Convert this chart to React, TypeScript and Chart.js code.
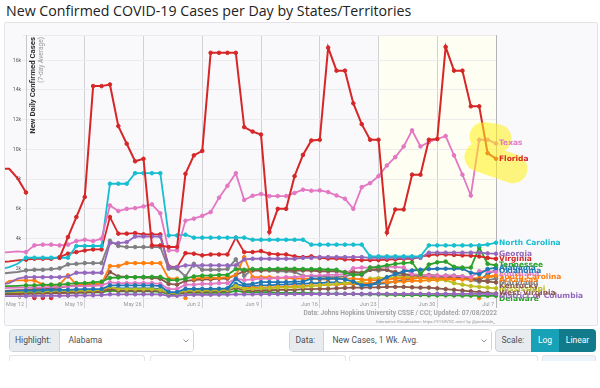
import React, { useEffect, useRef } from 'react';
import { Chart, registerables } from 'chart.js';

Chart.register(...registerables);

// Day index 0 = May 12, 2022. Series begin May 9 (-3) and end Jul 7 (56). Values in thousands.
const firstDay = -3;
const lastDay = 56;
const recentWeeksStart = 42; // Jun 23
const weekTickLabels = ['May 12', 'May 19', 'May 26', 'Jun 2', 'Jun 9', 'Jun 16', 'Jun 23', 'Jun 30', 'Jul 7'];
const yTickStep = 2;
const yMax = 17.7;

const florida = [8.7, 8.7, 8.05, 7.1, null, null, null, 2.7, 4.1, 5.45, 6.8, 14.26, 14.26, 14.37, 11.57, 10.38, 9.2, 9.37,
  3.54, 3.54, 3.43, 3.43, 8.36, 9.6, 9.9, 16.5, 16.5, 16.5, 16.5,
  11.5, 11.2, 11.0, 4.44, 6.0, 6.0, 8.2, 9.63, 10.6, 10.65,
  16.85, 15.3, 15.3, 13.1, 11.7, 10.65, 10.65, 4.4, 5.96, 5.96,
  8.3, 8.3, 10.65, 10.7, 16.9, 15.3, 15.3, 12.9, 12.9, 9.75, 9.37];
const floridaZeroDays = [1, 2, 3];

const texas = [3.05, 3.09, 3.14, 3.09, 3.54, 3.59, 3.59, 3.54, 3.59, 3.83, 3.92, 3.83, 3.99,
  6.23, 5.85, 6.0, 6.05, 6.16, 6.3, 5.7, 3.2, 3.2, 5.2,
  5.34, 5.53, 5.78, 6.75, 7.55, 8.4, 6.6, 6.88, 7.0, 6.86,
  6.86, 6.86, 7.07, 7.29, 7.22, 7.24, 7.13, 6.9, 6.68, 6.0,
  7.46, 7.73, 8.2, 8.92, 9.48, 10.2, 11.28, 10.2, 10.5, 10.7,
  10.9, 9.6, 8.3, 6.9, 10.65, 10.65, 10.4];

const northCarolina = [1.95, 2.08, 2.3, 2.71, 2.71, 2.71, 2.71, 2.71, 2.71, 3.5, 3.5, 3.5, 3.5,
  7.69, 7.69, 7.69, 8.4, 8.4, 8.4, 8.4, 4.21, 4.21, 4.26,
  4.06, 4.06, 4.06, 4.06, 4.06, 4.06, 4.06, 3.92, 3.92, 3.92,
  3.92, 3.92, 3.92, 3.92, 3.59, 3.59, 3.59, 3.59, 3.59, 3.59,
  3.59, 2.8, 2.8, 2.8, 2.8, 2.8, 2.8, 2.8, 3.54, 3.54,
  3.54, 3.54, 3.54, 3.54, 3.54, 3.6, 3.72];

const virginia = [2.42, 2.46, 2.53, 2.58, 2.64, 2.64, 2.64, 2.75, 2.98, 3.09, 3.2, 3.27, 3.27,
  5.45, 4.33, 4.33, 4.37, 4.28, 4.28, 4.28, 2.13, 2.08, 3.02,
  2.98, 2.87, 2.93, 2.93, 2.93, 4.06, 3.09, 3.09, 3.16, 2.98,
  2.93, 2.93, 2.8, 2.75, 2.8, 2.7, 2.66, 2.66, 2.6, 2.58,
  2.55, 2.55, 2.55, 2.58, 2.6, 2.64, 2.64, 2.78, 2.87, 2.93,
  2.93, 2.9, 2.87, 2.85, 2.8, 2.7, 2.64];

const georgia = [0.9, 1.0, 1.3, 1.4, 1.4, 1.4, 1.4, 1.4, 1.45, 1.7, 1.7, 1.7, 1.7,
  3.69, 3.69, 3.76, 4.14, 4.14, 4.14, 4.14, 2.08, 2.08, 2.19,
  2.19, 2.2, 2.2, 2.2, 2.2, 2.2, 2.6, 2.64, 2.64, 2.64,
  2.64, 2.64, 2.64, 2.7, 2.7, 2.75, 2.75, 2.75, 2.75, 2.75,
  2.75, 2.7, 2.7, 2.7, 2.7, 2.7, 2.7, 2.7, 3.05, 3.05,
  3.05, 3.05, 3.05, 3.05, 3.05, 3.0, 2.98];

const maryland = [1.63, 1.7, 1.75, 1.86, 1.9, 1.9, 1.95, 2.0, 2.26, 2.3, 2.35, 2.35, 2.35,
  3.85, 3.5, 3.43, 3.43, 3.43, 3.43, 3.43, 1.97, 1.97, 1.45,
  2.3, 1.9, 1.9, 1.9, 1.95, 2.6, 1.5, 1.9, 1.85, 1.85,
  1.8, 1.8, 1.75, 1.5, 1.45, 1.45, 1.4, 1.4, 1.45, 1.6,
  1.55, 1.9, 1.85, 1.9, 1.6, 1.45, 1.5, 1.45, 1.4, 1.4,
  1.4, 1.35, 1.3, 1.2, 1.1, 1.2, 1.3];

const tennessee = [0.8, 0.8, 0.82, 0.85, 0.85, 0.88, 0.9, 0.9, 0.95, 1.0, 1.0, 1.05, 1.1,
  1.35, 1.38, 1.4, 1.4, 1.42, 1.42, 1.42, 1.2, 1.2, 1.3,
  1.45, 1.5, 1.5, 1.55, 1.55, 1.95, 1.9, 1.95, 1.95, 1.95,
  1.97, 1.97, 1.97, 1.95, 1.95, 1.95, 1.9, 1.9, 1.7, 1.55,
  1.6, 2.05, 2.1, 2.2, 2.3, 2.35, 2.4, 1.6, 2.25, 2.4,
  2.45, 2.1, 2.05, 2.05, 3.4, 2.3, 2.2];

const alabama = [0.45, 0.45, 0.5, 0.5, 0.5, 0.52, 0.55, 0.55, 0.55, 0.58, 0.6, 0.6, 0.6,
  0.85, 0.85, 0.85, 0.85, 0.85, 0.85, 0.8, 0.4, 0.4, 0.62,
  0.62, 0.62, 0.62, 0.62, 0.65, 1.3, 0.9, 0.95, 1.07, 1.07,
  1.07, 1.07, 1.1, 1.1, 1.3, 1.3, 1.3, 1.3, 1.25, 1.1,
  0.85, 0.85, 1.1, 1.4, 1.6, 1.8, 1.85, 1.9, 1.95, 1.97,
  1.97, 1.97, 1.97, 1.7, 1.6, 1.95, 2.05];

const louisiana = [0.65, 0.68, 0.7, 0.7, 0.72, 0.72, 0.75, 0.75, 0.78, 0.8, 0.8, 0.82, 0.85,
  1.05, 1.0, 1.0, 1.0, 1.0, 1.0, 0.95, 0.6, 0.6, 0.9,
  0.9, 0.95, 0.95, 1.0, 1.0, 1.3, 1.2, 1.25, 1.3, 1.3,
  1.35, 1.4, 1.4, 1.45, 1.5, 1.5, 1.55, 1.55, 1.6, 2.0,
  2.05, 2.05, 2.1, 2.1, 2.1, 2.05, 1.6, 1.55, 1.5, 1.5,
  1.5, 1.5, 1.45, 1.4, 1.8, 1.8, 1.75];

const southCarolina = [0.8, 1.15, 1.18, 1.18, 1.18, 0.9, 0.85, 0.9, 1.52, 0.9, 0.95, 0.95, 0.95,
  2.15, 2.15, 2.35, 2.35, 2.35, 2.35, 2.35, 1.3, 1.3, null,
  1.3, 1.35, 1.35, 1.35, 1.4, 1.5, 2.75, 1.4, 1.4, 1.4,
  1.35, 1.35, 1.3, 1.3, 1.3, 1.25, 1.25, 1.3, 1.3, 1.3,
  1.25, 1.2, 1.2, 1.25, 1.3, 1.3, 1.3, 1.35, 1.35, 1.3,
  1.3, 1.3, 1.25, 1.25, null, 1.45, 1.52];
const southCarolinaZeroDays = [19, 54];

const kentucky = [0.45, 0.5, 0.52, 0.55, 0.6, 0.62, 0.65, 0.7, 0.8, 0.85, 0.88, 0.9, 0.95,
  1.75, 1.45, 1.42, 1.4, 1.38, 1.35, 1.3, 0.95, 0.9, 1.15,
  1.2, 1.25, 1.25, 1.3, 1.3, 1.55, 1.8, 1.85, 1.85, 1.9,
  1.9, 1.9, 1.85, 1.85, 1.85, 1.8, 1.8, 1.8, 1.75, 1.75,
  1.7, 1.9, 1.95, 1.9, 1.75, 1.6, 1.55, 1.5, 1.55, 1.5,
  1.45, 1.4, 1.35, 1.3, 1.2, 1.1, 1.05];

const mississippi = [0.4, 0.42, 0.42, 0.45, 0.45, 0.45, 0.48, 0.5, 0.5, 0.5, 0.52, 0.52, 0.55,
  0.75, 0.6, 0.6, 0.6, 0.6, 0.6, 0.55, 0.35, 0.35, 0.5,
  0.5, 0.5, 0.52, 0.52, 0.55, 0.8, 0.6, 0.62, 0.65, 0.65,
  0.7, 0.7, 0.72, 0.75, 0.8, 0.85, 0.9, 0.95, 1.0, 1.05,
  1.1, 1.3, 1.35, 1.35, 1.4, 1.4, 1.4, 1.35, 1.3, 1.25,
  1.2, 1.0, 0.9, 0.8, 0.75, 0.7, 0.65];

const districtOfColumbia = [0.12, 0.12, 0.13, 0.13, 0.14, 0.14, 0.15, 0.15, 0.16, 0.17, 0.18, 0.18, 0.2,
  0.25, 0.25, 0.25, 0.25, 0.25, 0.25, 0.24, 0.15, 0.15, 0.2,
  0.22, 0.22, 0.22, 0.23, 0.23, 0.25, 0.25, 0.25, 0.26, 0.26,
  0.26, 0.26, 0.27, 0.27, 0.27, 0.27, 0.28, 0.28, 0.28, 0.28,
  0.28, 0.28, 0.28, 0.28, 0.28, 0.28, 0.28, 0.28, 0.28, 0.28,
  0.28, 0.28, 0.28, 0.28, 0.28, 0.28, 0.28];

const westVirginia = [0.25, 0.26, 0.27, 0.28, 0.3, 0.3, 0.32, 0.33, 0.35, 0.36, 0.38, 0.4, 0.42,
  0.6, 0.5, 0.5, 0.5, 0.5, 0.5, 0.48, 0.3, 0.3, 0.4,
  0.42, 0.42, 0.45, 0.45, 0.48, 0.7, 0.5, 0.5, 0.52, 0.52,
  0.55, 0.55, 0.55, 0.6, 0.6, 0.62, 0.62, 0.65, 0.68, 0.7,
  0.7, 0.72, 0.72, 0.75, 0.75, 0.75, 0.72, 0.7, 0.7, 0.65,
  0.6, 0.55, 0.5, 0.45, 0.4, 0.35, 0.3];

const delaware = [0.3, 0.3, 0.3, 0.32, 0.32, 0.33, 0.33, 0.35, 0.35, 0.36, 0.36, 0.38, 0.38,
  0.5, 0.45, 0.45, 0.45, 0.45, 0.45, 0.42, 0.25, 0.25, 0.35,
  0.35, 0.35, 0.35, 0.35, 0.35, 0.5, 0.4, 0.4, 0.4, 0.4,
  0.35, 0.35, 0.35, 0.35, 0.32, 0.3, 0.3, 0.3, 0.28, 0.28,
  0.25, 0.25, 0.25, 0.22, 0.22, 0.2, 0.2, 0.2, 0.18, 0.18,
  0.18, 0.17, 0.16, 0.16, 0.15, 0.15, 0.15];

const oklahoma = [0.35, 0.35, 0.38, 0.38, 0.4, 0.4, 0.42, 0.42, 0.45, 0.45, 0.48, 0.5, 0.5,
  0.7, 0.65, 0.65, 0.65, 0.65, 0.65, 0.6, 0.3, 0.3, 0.5,
  0.55, 0.55, 0.6, 0.6, 0.6, 0.95, 0.8, 0.8, 0.85, 0.85,
  0.9, 0.9, 0.95, 0.95, 1.0, 1.0, 1.05, 1.05, 1.0, 0.95,
  0.9, 0.9, 0.95, 1.0, 1.1, 1.2, 1.3, 1.35, 1.4, 1.45,
  1.5, 1.5, 1.45, 1.3, 1.2, 1.6, 1.9];

const arkansas = [0.3, 0.32, 0.32, 0.33, 0.35, 0.35, 0.36, 0.38, 0.4, 0.4, 0.42, 0.42, 0.45,
  0.6, 0.55, 0.55, 0.55, 0.55, 0.55, 0.5, 0.3, 0.3, 0.45,
  0.5, 0.5, 0.55, 0.55, 0.55, 0.75, 0.65, 0.7, 0.7, 0.7,
  0.75, 0.75, 0.8, 0.8, 0.85, 0.85, 0.9, 0.9, 0.95, 0.95,
  1.0, 1.0, 1.05, 1.05, 1.1, 1.1, 1.15, 1.15, 1.2, 1.2,
  1.25, 1.25, 1.3, 1.3, 1.35, 1.4, 1.45];

const C = {
  blue: '#1f77b4', orange: '#ff7f0e', green: '#2ca02c', red: '#d62728', purple: '#9467bd',
  brown: '#8c564b', pink: '#e377c2', gray: '#7f7f7f', olive: '#bcbd22', cyan: '#17becf',
};

// first entry is drawn on top
const series = [
  { name: 'Florida', color: C.red, values: florida },
  { name: 'Texas', color: C.pink, values: texas },
  { name: 'North Carolina', color: C.cyan, values: northCarolina },
  { name: 'Georgia', color: C.purple, values: georgia },
  { name: 'Virginia', color: C.red, values: virginia },
  { name: 'Tennessee', color: C.green, values: tennessee },
  { name: 'Alabama', color: C.blue, values: alabama },
  { name: 'Louisiana', color: C.pink, values: louisiana },
  { name: 'South Carolina', color: C.orange, values: southCarolina },
  { name: 'Kentucky', color: C.brown, values: kentucky },
  { name: 'Mississippi', color: C.olive, values: mississippi },
  { name: 'District of Columbia', color: C.purple, values: districtOfColumbia },
  { name: 'West Virginia', color: C.brown, values: westVirginia },
  { name: 'Delaware', color: C.green, values: delaware },
  { name: 'Maryland', color: C.gray, values: maryland },
  { name: 'Arkansas', color: C.orange, values: arkansas },
  { name: 'Oklahoma', color: C.blue, values: oklahoma },
];
const highlighted = ['Texas', 'Florida'];

const zeroDots = [
  { color: C.red, days: floridaZeroDays },
  { color: C.orange, days: southCarolinaZeroDays },
];

const overlayPlugin = {
  id: 'overlay',
  beforeDraw(chart: any) {
    const { ctx, chartArea, scales } = chart;
    const x0 = scales.x.getPixelForValue(recentWeeksStart);
    const x1 = scales.x.getPixelForValue(lastDay);
    ctx.save();
    ctx.fillStyle = '#fefef2';
    ctx.fillRect(x0, chartArea.top, x1 - x0, chartArea.bottom - chartArea.top);
    ctx.restore();
  },
  beforeDatasetsDraw(chart: any) {
    const { ctx, chartArea } = chart;
    ctx.save();
    ctx.translate(chartArea.left + 7, chartArea.top + 2);
    ctx.rotate(-Math.PI / 2);
    ctx.textAlign = 'right';
    ctx.textBaseline = 'middle';
    ctx.fillStyle = '#333';
    ctx.font = 'bold 7.8px Roboto';
    ctx.fillText('New Daily Confirmed Cases', 0, 0);
    ctx.fillStyle = '#9a9a9a';
    ctx.font = '6.6px Roboto';
    ctx.fillText('(7-day Average)', 0, 8);
    ctx.restore();
  },
  afterDatasetsDraw(chart: any) {
    const { ctx, scales } = chart;
    const xs = scales.x;
    const ys = scales.y;
    const items = series.map((s) => {
      let i = s.values.length - 1;
      while (i >= 0 && s.values[i] == null) i--;
      return {
        name: s.name, color: s.color,
        x: xs.getPixelForValue(firstDay + i),
        y: ys.getPixelForValue(s.values[i] as number),
        ly: 0,
      };
    }).sort((a, b) => a.y - b.y);
    let prev = -Infinity;
    for (const it of items) {
      it.ly = Math.max(it.y, prev + 3);
      prev = it.ly;
    }
    // highlight blobs
    ctx.save();
    ctx.strokeStyle = 'rgba(255, 240, 20, 0.55)';
    ctx.lineCap = 'round';
    ctx.lineWidth = 29;
    ctx.beginPath();
    for (const it of items) {
      if (it.name === highlighted[0]) {
        ctx.moveTo(it.x - 12, it.y - 7);
        ctx.lineTo(it.x + 1, it.y - 5);
      } else if (it.name === highlighted[1]) {
        ctx.moveTo(it.x - 17, it.y - 2);
        ctx.lineTo(it.x + 17, it.y + 10);
      }
    }
    ctx.stroke();
    ctx.restore();
    // end labels
    ctx.save();
    ctx.font = 'bold 7.5px "DejaVu Sans"';
    ctx.textBaseline = 'middle';
    ctx.textAlign = 'left';
    for (const it of [...items].reverse()) {
      ctx.fillStyle = it.color;
      ctx.fillText(it.name, it.x + 3, it.ly);
    }
    ctx.restore();
  },
};

function ChartView() {
  const ref = useRef<HTMLCanvasElement | null>(null);
  useEffect(() => {
    if (!ref.current) return;
    const datasets: any[] = series.map((s) => ({
      label: s.name,
      data: s.values.map((v, i) => ({ x: firstDay + i, y: v })),
      borderColor: s.color,
      backgroundColor: s.color,
      pointBackgroundColor: s.color,
      pointBorderColor: s.color,
      borderWidth: s.name === 'Florida' ? 2 : 1.8,
      pointRadius: 1.8,
      pointBorderWidth: 1,
      tension: 0,
      spanGaps: false,
      clip: false,
    }));
    zeroDots.forEach((z) => {
      datasets.push({
        label: '',
        data: z.days.map((d) => ({ x: d, y: 0 })),
        showLine: false,
        borderColor: z.color,
        backgroundColor: z.color,
        pointBackgroundColor: z.color,
        pointBorderColor: z.color,
        pointRadius: 1.8,
        pointBorderWidth: 1,
        clip: false,
      });
    });
    const chart = new Chart(ref.current, {
      type: 'line',
      data: { datasets },
      plugins: [overlayPlugin],
      options: {
        animation: false,
        responsive: false,
        devicePixelRatio: 1,
        layout: { padding: { left: 0, right: 101, top: 11, bottom: 0 } },
        plugins: { legend: { display: false }, tooltip: { enabled: false } },
        scales: {
          x: {
            type: 'linear',
            max: lastDay,
            afterDataLimits: (s: any) => { s.min = 0; s.max = lastDay; },
            afterFit: (s: any) => { s.height = 12; },
            ticks: {
              stepSize: 7,
              autoSkip: false,
              maxRotation: 0,
              align: 'end',
              labelOffset: -2,
              padding: -7,
              color: '#999',
              font: { family: 'Roboto', size: 5.5 },
              callback: (v: any) => weekTickLabels[Math.round(Number(v) / 7)] ?? '',
            },
            grid: {
              color: (ctx: any) => (ctx.tick && ctx.tick.value === lastDay ? '#b4b4b8' : '#d2d2d6'),
              tickLength: 10,
              drawTicks: true,
            },
            border: { display: false },
          },
          y: {
            min: 0,
            max: yMax,
            afterFit: (s: any) => { s.width = 21; },
            ticks: {
              stepSize: yTickStep,
              padding: 1,
              color: '#555',
              font: { family: 'Roboto', size: 5 },
              callback: (v: any) => {
                const n = Number(v);
                if (Math.abs(n / yTickStep - Math.round(n / yTickStep)) > 1e-6) return '';
                return n === 0 ? '0' : `${Math.round(n)}k`;
              },
            },
            grid: { color: '#ebebf0', tickLength: 4, drawTicks: true },
            border: { display: true, color: '#c8c8cc' },
          },
        },
      },
    });
    return () => chart.destroy();
  }, []);
  return (
    <canvas ref={ref} width={592} height={286}
      style={{ position: 'absolute', left: 5, top: 24, width: 592, height: 286 }} />
  );
}

const chevron = (
  <svg width="6" height="4" viewBox="0 0 6 4" style={{ position: 'absolute', right: 4, top: 9.5 }}>
    <polyline points="0.5,0.5 3,3 5.5,0.5" fill="none" stroke="#777" strokeWidth="0.8" />
  </svg>
);

const ctrlFont = { fontFamily: 'Roboto', fontSize: 8.5, color: '#495057' };

export default function App() {
  useEffect(() => { document.body.style.margin = '0'; }, []);
  return (
    <div style={{ position: 'fixed', left: 0, top: 0, width: 600, height: 388, background: '#fff', overflow: 'hidden' }}>
      <div style={{ position: 'absolute', left: 6, top: 1, fontFamily: '"Open Sans"', fontSize: 14.2, color: '#222', whiteSpace: 'nowrap', lineHeight: '19px' }}>
        New Confirmed COVID-19 Cases per Day by States/Territories
      </div>
      <div style={{ position: 'absolute', left: 4, top: 22, width: 592, height: 302, background: '#f9f9fc', border: '1px solid #e3e3e8', borderRadius: 2 }} />
      <ChartView />
      <div style={{ position: 'absolute', right: 103, top: 309, fontFamily: 'Roboto', fontWeight: 700, fontSize: 6.6, color: '#a4a4a8', whiteSpace: 'nowrap', lineHeight: '9px' }}>
        Data: Johns Hopkins University CSSE / CCI; Updated: 07/08/2022
      </div>
      <div style={{ position: 'absolute', right: 105, top: 318.5, fontFamily: 'Roboto', fontSize: 4.2, color: '#999', whiteSpace: 'nowrap', lineHeight: '6px' }}>
        Interactive Visualization: https://91-DIVOC.com/ by @profwade_
      </div>

      {/* Highlight control */}
      <div style={{ position: 'absolute', left: 8.5, top: 328.5, width: 185.5, height: 23, boxSizing: 'border-box', border: '1px solid #ced4da', borderRadius: 4, overflow: 'hidden', display: 'flex', ...ctrlFont }}>
        <div style={{ width: 50.5, background: '#e9ecef', borderRight: '1px solid #ced4da', display: 'flex', alignItems: 'center', paddingLeft: 5.5, boxSizing: 'border-box' }}>Highlight:</div>
        <div style={{ flex: 1, background: '#fff', display: 'flex', alignItems: 'center', paddingLeft: 8.5, position: 'relative' }}>Alabama{chevron}</div>
      </div>

      {/* Data control */}
      <div style={{ position: 'absolute', left: 288.5, top: 328.5, width: 203.5, height: 23, boxSizing: 'border-box', border: '1px solid #ced4da', borderRadius: 4, overflow: 'hidden', display: 'flex', ...ctrlFont }}>
        <div style={{ width: 34.5, background: '#e9ecef', borderRight: '1px solid #ced4da', display: 'flex', alignItems: 'center', paddingLeft: 6, boxSizing: 'border-box' }}>Data:</div>
        <div style={{ flex: 1, background: '#fff', display: 'flex', alignItems: 'center', paddingLeft: 8.5, position: 'relative' }}>New Cases, 1 Wk. Avg.{chevron}</div>
      </div>

      {/* Scale control */}
      <div style={{ position: 'absolute', left: 495, top: 328.5, width: 101, height: 23, borderRadius: 4, overflow: 'hidden', display: 'flex', ...ctrlFont }}>
        <div style={{ width: 36, background: '#e9ecef', border: '1px solid #ced4da', borderRight: 'none', borderRadius: '4px 0 0 4px', display: 'flex', alignItems: 'center', paddingLeft: 5.5, boxSizing: 'border-box' }}>Scale:</div>
        <div style={{ width: 28, background: '#17a2b8', color: '#fff', display: 'flex', alignItems: 'center', justifyContent: 'center' }}>Log</div>
        <div style={{ flex: 1, background: '#117a8b', color: '#fff', display: 'flex', alignItems: 'center', justifyContent: 'center' }}>Linear</div>
      </div>

      {/* next row peeking */}
      {[[8.5, 136.5], [150, 196], [349, 189], [542, 54]].map(([l, w], i) => (
        <div key={i} style={{ position: 'absolute', left: l, top: 354.6, width: w, height: 6, boxSizing: 'border-box', border: '1px solid #e2e4e8', borderBottom: 'none', borderRadius: '3px 3px 0 0', background: i === 3 ? '#eef4fb' : '#fff' }} />
      ))}
    </div>
  );
}
